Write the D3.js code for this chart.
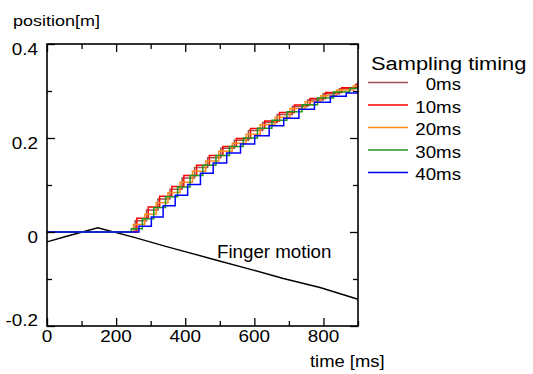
<!DOCTYPE html>
<html>
<head>
<meta charset="utf-8">
<script src="https://cdn.jsdelivr.net/npm/d3@7"></script>
<style>
  body { margin: 0; background: #fff; }
  svg { display: block; font-family: "Liberation Sans", Arial, sans-serif; }
</style>
</head>
<body>
<div id="chart"></div>
<script>
// tick values
const timeTicks = [0, 200, 400, 600, 800];
const timeMinor = [100, 300, 500, 700, 900];
const posTicks = [-0.2, 0, 0.2, 0.4];
const posMinor = [-0.1, 0.1, 0.3];

// finger motion (black line)
const fingerTime = [0, 57, 147, 250, 346, 491, 597, 684, 790, 900];
const fingerPos = [-0.021, -0.009, 0.009, -0.011, -0.031, -0.060, -0.081, -0.099, -0.118, -0.143];

// sampled position, one staircase per sampling timing
const seriesNames = ["0ms", "10ms", "20ms", "30ms", "40ms"];
const seriesColors = ["#a0504f", "#ff0000", "#ff8c1a", "#1f961f", "#0000ff"];

const time0ms = [255, 288, 321, 356, 391, 427, 465, 503, 542, 583, 624, 666, 710, 754, 799, 846, 893];
const pos0ms = [0.024, 0.047, 0.070, 0.091, 0.115, 0.137, 0.158, 0.178, 0.195, 0.216, 0.233, 0.250, 0.267, 0.281, 0.294, 0.305, 0.314];
const time10ms = [260, 293, 326, 361, 396, 433, 470, 509, 548, 589, 630, 673, 716, 761, 806, 853, 898];
const pos10ms = [0.029, 0.053, 0.076, 0.097, 0.120, 0.142, 0.163, 0.182, 0.199, 0.220, 0.236, 0.254, 0.270, 0.284, 0.297, 0.307, 0.316];
const time20ms = [250, 283, 316, 350, 385, 421, 459, 497, 536, 576, 617, 660, 703, 747, 792, 838, 886];
const pos20ms = [0.016, 0.038, 0.062, 0.084, 0.106, 0.129, 0.151, 0.172, 0.189, 0.208, 0.228, 0.244, 0.263, 0.277, 0.290, 0.302, 0.311];
const time30ms = [244, 276, 309, 343, 378, 414, 451, 489, 528, 568, 609, 651, 694, 738, 783, 829, 876];
const pos30ms = [0.007, 0.028, 0.052, 0.075, 0.096, 0.120, 0.142, 0.163, 0.182, 0.200, 0.221, 0.238, 0.256, 0.271, 0.285, 0.298, 0.306];
const time40ms = [266, 302, 336, 371, 407, 444, 481, 520, 560, 601, 643, 685, 729, 774, 820, 866];
const pos40ms = [0.012, 0.032, 0.056, 0.078, 0.101, 0.125, 0.147, 0.168, 0.187, 0.205, 0.226, 0.242, 0.261, 0.276, 0.289, 0.296];

const seriesTimes = [time0ms, time10ms, time20ms, time30ms, time40ms];
const seriesPos = [pos0ms, pos10ms, pos20ms, pos30ms, pos40ms];

const width = 533, height = 374;
const plot = { left: 47, right: 358, top: 44, bottom: 326 };

const svg = d3.select("#chart").append("svg")
    .attr("width", width)
    .attr("height", height);

const x = d3.scaleLinear().domain([0, 900]).range([plot.left, plot.right]);
const y = d3.scaleLinear().domain([-0.2, 0.4]).range([plot.bottom, plot.top]);

// stretched text, the original lettering is a bit wide
function label(txt, px, py, size, anchor, sx) {
    svg.append("text")
        .attr("transform", `translate(${px},${py}) scale(${sx},1)`)
        .attr("text-anchor", anchor)
        .attr("font-size", size + "px")
        .attr("fill", "#000")
        .text(txt);
}

// finger motion
svg.append("path")
    .datum(fingerTime.map((t, i) => [t, fingerPos[i]]))
    .attr("fill", "none")
    .attr("stroke", "#000")
    .attr("stroke-width", 1.4)
    .attr("d", d3.line().x(d => x(d[0])).y(d => y(d[1])));

// staircases
const step = d3.line().x(d => x(d[0])).y(d => y(d[1])).curve(d3.curveStepAfter);
seriesNames.forEach((name, k) => {
    const pts = [[0, 0]];
    seriesTimes[k].forEach((t, i) => pts.push([t, seriesPos[k][i]]));
    pts.push([900, seriesPos[k][seriesPos[k].length - 1]]);
    svg.append("path")
        .datum(pts)
        .attr("fill", "none")
        .attr("stroke", seriesColors[k])
        .attr("stroke-width", 1.5)
        .attr("d", step);
});

// frame + inward ticks on all four sides
function ticks(axis, vals, size, transform) {
    svg.append("g")
        .attr("transform", transform)
        .call(axis.tickValues(vals).tickSize(size).tickSizeOuter(0).tickFormat(""))
        .call(g => g.select(".domain").remove())
        .call(g => g.selectAll("line").attr("stroke", "#000").attr("stroke-width", 1.3));
}
ticks(d3.axisBottom(x), timeTicks, -8, `translate(0,${plot.bottom})`);
ticks(d3.axisBottom(x), timeMinor, -5, `translate(0,${plot.bottom})`);
ticks(d3.axisTop(x), timeTicks, -8, `translate(0,${plot.top})`);
ticks(d3.axisTop(x), timeMinor, -5, `translate(0,${plot.top})`);
ticks(d3.axisLeft(y), posTicks, -8, `translate(${plot.left},0)`);
ticks(d3.axisLeft(y), posMinor, -5, `translate(${plot.left},0)`);
ticks(d3.axisRight(y), posTicks, -8, `translate(${plot.right},0)`);
ticks(d3.axisRight(y), posMinor, -5, `translate(${plot.right},0)`);

svg.append("rect")
    .attr("x", plot.left)
    .attr("y", plot.top)
    .attr("width", plot.right - plot.left)
    .attr("height", plot.bottom - plot.top)
    .attr("fill", "none")
    .attr("stroke", "#000")
    .attr("stroke-width", 1.6);

// tick labels
timeTicks.forEach(t => label(String(t), x(t), 342, 16, "middle", 1.18));
posTicks.forEach(v => {
    const py = Math.min(y(v) + 11, plot.bottom);
    label(String(v), plot.left - 9, py, 16, "end", 1.18);
});

// axis titles
label("position[m]", 13, 26, 15, "start", 1.2);
label("time [ms]", 310, 367, 16, "start", 1.15);
label("Finger motion", 217, 258, 18, "start", 1.04);

// legend
label("Sampling timing", 371, 70, 19, "start", 1.15);
seriesNames.forEach((name, k) => {
    const ly = 82.5 + k * 22.5;
    svg.append("line")
        .attr("x1", 368).attr("x2", 408)
        .attr("y1", ly).attr("y2", ly)
        .attr("stroke", seriesColors[k])
        .attr("stroke-width", 1.5);
    label(name, 461, ly + 7.5, 17, "end", 1.1);
});
</script>
</body>
</html>
